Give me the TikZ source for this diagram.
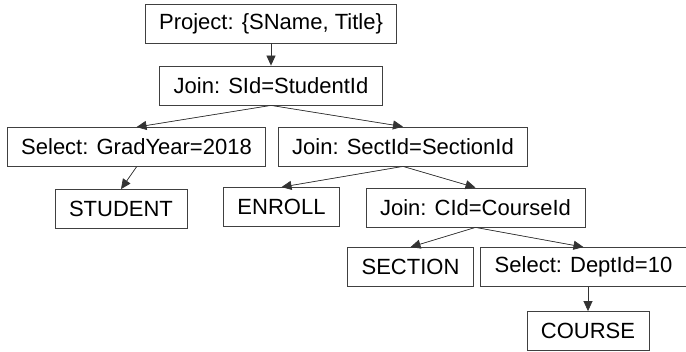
\documentclass[tikz,border=0pt]{standalone}
\usepackage{fontspec}
\setmainfont{Liberation Sans}
\usepackage{tikz}
\usetikzlibrary{arrows.meta}

\begin{document}
\begin{tikzpicture}[
  x=1pt, y=-1pt,
  font=\fontsize{22}{26}\selectfont,
  box/.style={draw=black!75, line width=0.8pt, minimum height=39pt, inner xsep=14pt, align=center},
  ar/.style={-{Triangle[length=10pt,width=9pt]}, line width=0.7pt, draw=black!80, fill=black},
]
\useasboundingbox (0,0) rectangle (686,352);

% ---------- root ----------
\node[box] (proj)  at (271,23.5)   {Project: \{SName, Title\}};
\node[box] (jsid)  at (271,85.5)   {Join: SId=StudentId};

% ---------- second level ----------
\node[box] (sgrad) at (136.5,147)  {Select: GradYear=2018};
\node[box] (jsect) at (403,146.5)  {Join: SectId=SectionId};

% ---------- third level ----------
\node[box] (stud)  at (121,209)    {STUDENT};
\node[box] (enr)   at (281.5,207)  {ENROLL};
\node[box] (jcid)  at (475.5,207.5){Join: CId=CourseId};

% ---------- leaves ----------
\node[box] (sect)  at (410.5,267)  {SECTION};
\node[box] (sdept) at (583.5,267)  {Select: DeptId=10};
\node[box] (crs)   at (588,331)    {COURSE};

\draw[ar] (proj.south)  -- (jsid.north);
\draw[ar] (jsid.south)  -- (sgrad.north);
\draw[ar] (jsid.south)  -- (jsect.north);
\draw[ar] (sgrad.south) -- (stud.north);
\draw[ar] (jsect.south) -- (enr.north);
\draw[ar] (jsect.south) -- (jcid.north);
\draw[ar] (jcid.south)  -- (sect.north);
\draw[ar] (jcid.south)  -- (sdept.north);
\draw[ar] (crs.north |- sdept.south) -- (crs.north);
\end{tikzpicture}
\end{document}
